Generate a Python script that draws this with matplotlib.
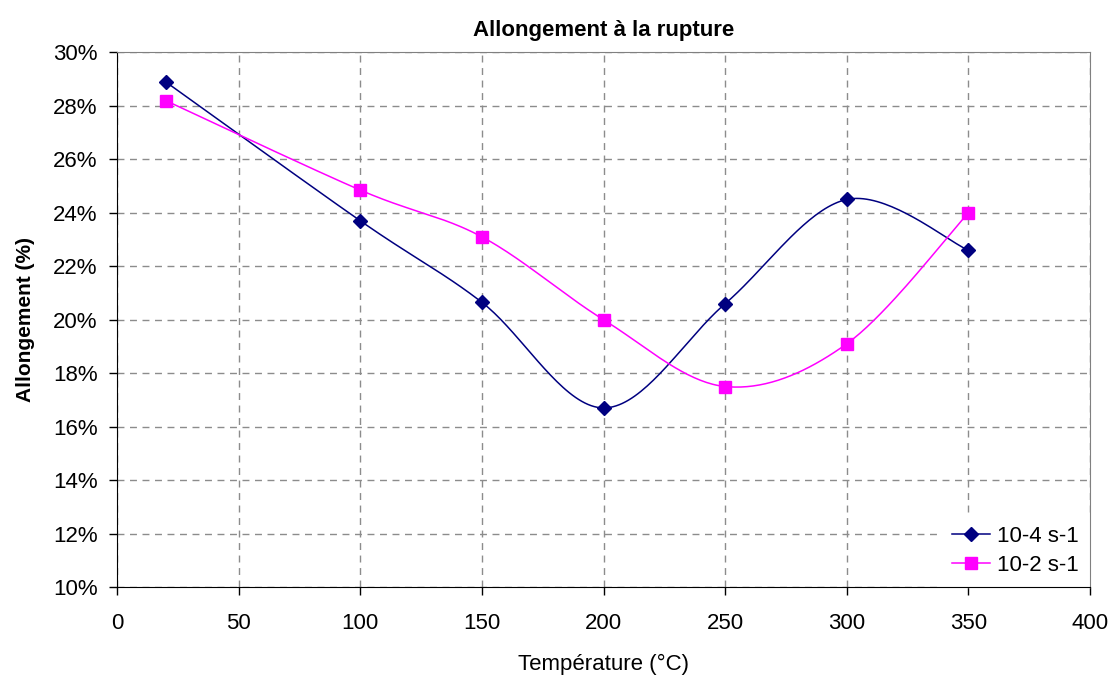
import numpy as np
import matplotlib.pyplot as plt
from matplotlib.ticker import FuncFormatter

# Data
temperature = [20, 100, 150, 200, 250, 300, 350]
allong_1e4 = [28.9, 23.7, 20.65, 16.7, 20.6, 24.5, 22.6]
allong_1e2 = [28.2, 24.85, 23.1, 20.0, 17.5, 19.1, 24.0]
series_names = ['10-4 s-1', '10-2 s-1']


def excel_smooth(x, y, n=40):
    # Bezier smoothing as in spreadsheet "smoothed line" charts
    p = np.column_stack([x, y]).astype(float)
    p = np.vstack([p[0], p, p[-1]])
    t = np.linspace(0, 1, n)[:, None]
    out = []
    for i in range(1, len(p) - 2):
        p0, p1, p2, p3 = p[i - 1], p[i], p[i + 1], p[i + 2]
        c1 = p1 + (p2 - p0) / 6.0
        c2 = p2 - (p3 - p1) / 6.0
        seg = ((1 - t) ** 3) * p1 + 3 * ((1 - t) ** 2) * t * c1 \
            + 3 * (1 - t) * t ** 2 * c2 + t ** 3 * p2
        out.append(seg if i == 1 else seg[1:])
    seg = np.vstack(out)
    return seg[:, 0], seg[:, 1]


plt.rcParams['font.family'] = ['Liberation Sans', 'DejaVu Sans']

fig = plt.figure(figsize=(11.15, 6.77), dpi=100)
ax = fig.add_axes([0.105, 0.133, 0.8726, 0.7895])

styles = [
    dict(color='#000080', marker='D', ms=7.5),
    dict(color='#FF00FF', marker='s', ms=9),
]
for yv, name, st in zip([allong_1e4, allong_1e2], series_names, styles):
    sx, sy = excel_smooth(temperature, yv)
    ax.plot(sx, sy, color=st['color'], lw=1.1, zorder=3)
    ax.plot(temperature, yv, ls='none', marker=st['marker'], ms=st['ms'],
            color=st['color'], zorder=4)
    # proxy for legend (line + marker)
    ax.plot([], [], color=st['color'], lw=1.1, marker=st['marker'],
            ms=st['ms'], label=name)

ax.set_xlim(0, 400)
ax.set_ylim(10, 30)
ax.set_xticks(np.arange(0, 401, 50))
ax.set_yticks(np.arange(10, 31, 2))
ax.yaxis.set_major_formatter(FuncFormatter(lambda v, _: '%d%%' % v))
ax.tick_params(direction='out', length=6, width=1, labelsize=16,
               colors='black')
ax.tick_params(axis='y', pad=8)
ax.tick_params(axis='x', pad=13)

ax.grid(True, color='#8c8c8c', linestyle=(0, (5, 4)), linewidth=1, zorder=1)
ax.set_axisbelow(True)

for s in ['top', 'right']:
    ax.spines[s].set_color('#808080')
for s in ['left', 'bottom']:
    ax.spines[s].set_color('black')
for s in ax.spines.values():
    s.set_zorder(10)

ax.set_title('Allongement à la rupture', fontsize=16, fontweight='bold', pad=12)
ax.set_xlabel('Température (°C)', fontsize=16, labelpad=14)
ax.set_ylabel('Allongement (%)', fontsize=15, fontweight='bold', labelpad=13)

leg = ax.legend(loc='lower right', frameon=True, fontsize=16,
                handlelength=1.7, bbox_to_anchor=(0.995, 0.008),
                borderaxespad=0, handletextpad=0.3, labelspacing=0.38,
                borderpad=0.3)
leg.get_frame().set_edgecolor('white')
leg.get_frame().set_facecolor('white')
leg.get_frame().set_alpha(1)
leg.get_frame().set_boxstyle('square', pad=0.2)

fig.savefig('out.png', dpi=100)
